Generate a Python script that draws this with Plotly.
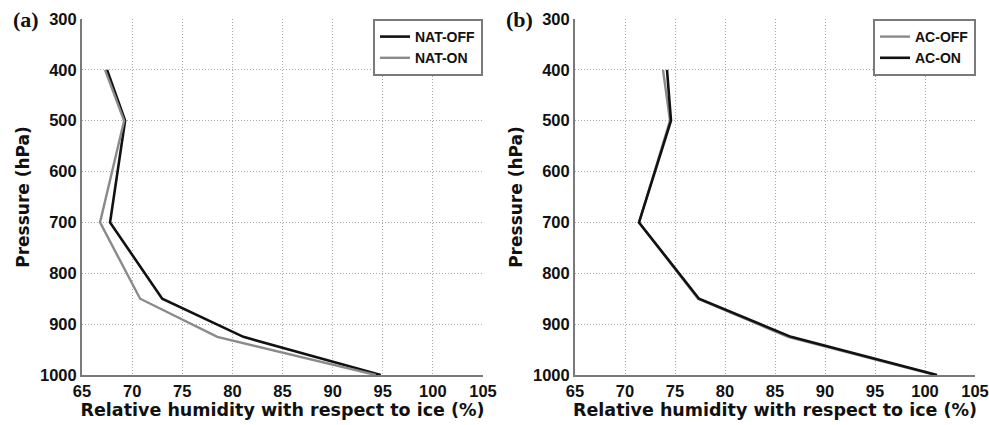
import plotly.graph_objects as go

pressure = [400, 500, 700, 850, 925, 1000]
nat_off = [67.5, 69.3, 67.8, 73.0, 81.1, 94.8]
nat_on = [67.3, 69.2, 66.8, 70.8, 78.5, 94.3]
ac_off = [73.8, 74.5, 71.4, 77.3, 86.3, 101.0]
ac_on = [74.2, 74.6, 71.4, 77.4, 86.6, 101.2]

x_ticks = list(range(65, 106, 5))
y_ticks = list(range(300, 1001, 100))

BLACK = "#111111"
GRAY = "#8a8a8a"
FONT = "Liberation Sans"
TFONT = "DejaVu Sans"

fig = go.Figure()
fig.add_trace(go.Scatter(x=nat_off, y=pressure, mode="lines", name="NAT-OFF",
                         line=dict(color=BLACK, width=2.6), xaxis="x", yaxis="y", legend="legend"))
fig.add_trace(go.Scatter(x=nat_on, y=pressure, mode="lines", name="NAT-ON",
                         line=dict(color=GRAY, width=2.4), xaxis="x", yaxis="y", legend="legend"))
fig.add_trace(go.Scatter(x=ac_off, y=pressure, mode="lines", name="AC-OFF",
                         line=dict(color=GRAY, width=2.4), xaxis="x2", yaxis="y2", legend="legend2"))
fig.add_trace(go.Scatter(x=ac_on, y=pressure, mode="lines", name="AC-ON",
                         line=dict(color=BLACK, width=2.6), xaxis="x2", yaxis="y2", legend="legend2"))

W, H = 989, 425
dom_a = [82 / W, 483 / W]
dom_b = [575 / W, 975 / W]

common = dict(showgrid=True, gridcolor="#a8a8a8", griddash="1px,2px", gridwidth=1,
              showline=True, linecolor="#7a7a7a", linewidth=2, zeroline=False,
              ticks="", ticklen=0, automargin=False,
              tickfont=dict(family=FONT, size=16.5, color="#111111", weight="bold"))
xax = dict(range=[65, 105], tickvals=x_ticks,
           title=dict(text="<b>Relative humidity with respect to ice (%)</b>",
                      font=dict(family=TFONT, size=17.5, color="#111111"), standoff=1),
           **common)
yax = dict(range=[1000, 300], tickvals=y_ticks,
           title=dict(text="<b>Pressure (hPa)</b>",
                      font=dict(family=TFONT, size=17, color="#111111"), standoff=6),
           **common)

legend_common = dict(bgcolor="white", bordercolor="#7a7a7a", borderwidth=2,
                     font=dict(family=FONT, size=14, color="#111111", weight="bold"),
                     xanchor="right", yanchor="top", tracegroupgap=0, itemwidth=30,
                     yref="paper", xref="paper")

fig.update_layout(
    width=W, height=H,
    paper_bgcolor="white", plot_bgcolor="white",
    margin=dict(l=0, r=0, t=19, b=50, autoexpand=False),
    showlegend=True,
    xaxis=dict(domain=dom_a, anchor="y", **xax),
    yaxis=dict(domain=[0, 1], anchor="x", **yax),
    xaxis2=dict(domain=dom_b, anchor="y2", **xax),
    yaxis2=dict(domain=[0, 1], anchor="x2", **yax),
    legend=dict(x=483 / W, y=1.0, **legend_common),
    legend2=dict(x=976 / W, y=1.0, **legend_common),
    annotations=[
        dict(text="<b>(a)</b>", x=11 / W, y=1.0, xref="paper", yref="paper",
             xanchor="left", yanchor="middle", showarrow=False,
             font=dict(family="Liberation Serif", size=22, color="#111111")),
        dict(text="<b>(b)</b>", x=504 / W, y=1.0, xref="paper", yref="paper",
             xanchor="left", yanchor="middle", showarrow=False,
             font=dict(family="Liberation Serif", size=22, color="#111111")),
    ],
)

fig.write_html("out.html")
